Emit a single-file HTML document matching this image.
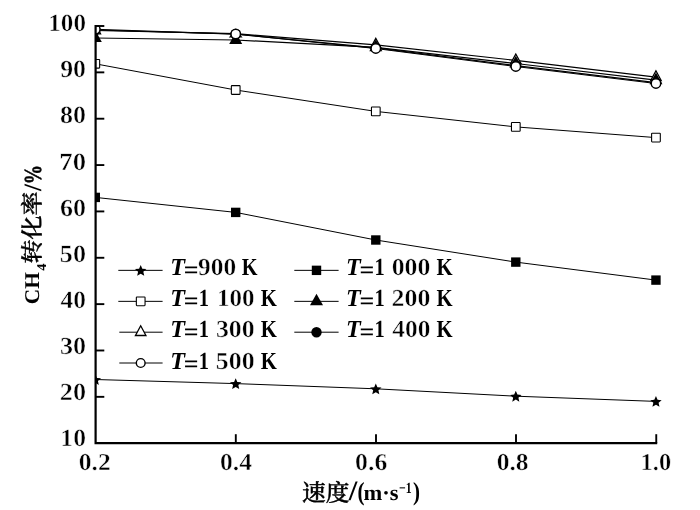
<!DOCTYPE html>
<html><head><meta charset="utf-8"><title>chart</title>
<style>
html,body{margin:0;padding:0;background:#fff;}
svg{display:block;}
text{font-family:"Liberation Serif","Noto Serif CJK SC",serif;font-weight:bold;fill:#000;text-rendering:geometricPrecision;}
.d{stroke:#fff;stroke-width:0.45px;}
.pc{stroke:#000;stroke-width:0.5px;}
.cjk{font-family:"Noto Serif CJK SC","Liberation Serif",serif;font-weight:500;stroke:#000;stroke-width:0.45px;}
</style></head><body>
<svg width="700" height="510" viewBox="0 0 700 510">
<rect width="700" height="510" fill="#fff"/>
<defs><clipPath id="plot"><rect x="95.5" y="25.1" width="600" height="418.2"/></clipPath></defs>

<g clip-path="url(#plot)">
<polyline points="95.30,379.50 235.70,383.60 375.80,388.80 515.80,396.20 655.95,401.40" fill="none" stroke="#000" stroke-width="1.0"/>
<polyline points="95.30,197.40 235.70,212.40 375.80,240.00 515.80,262.10 655.95,280.10" fill="none" stroke="#000" stroke-width="1.0"/>
<polyline points="95.30,63.80 235.70,90.00 375.80,111.40 515.80,126.90 655.95,137.60" fill="none" stroke="#000" stroke-width="1.0"/>
<polyline points="95.30,38.00 235.70,40.00 375.80,47.30 515.80,63.50 655.95,80.20" fill="none" stroke="#000" stroke-width="1.2"/>
<polyline points="95.30,30.50 235.70,33.70 375.80,44.80 515.80,60.40 655.95,77.20" fill="none" stroke="#000" stroke-width="1.2"/>
<polyline points="95.30,30.00 235.70,34.00 375.80,47.80 515.80,65.70 655.95,82.70" fill="none" stroke="#000" stroke-width="1.2"/>
<polyline points="95.30,29.30 235.70,34.10 375.80,48.50 515.80,66.50 655.95,83.50" fill="none" stroke="#000" stroke-width="1.2"/>
<polygon points="95.30,374.10 96.92,377.88 101.01,378.25 97.92,380.95 98.83,384.95 95.30,382.85 91.77,384.95 92.68,380.95 89.59,378.25 93.68,377.88" fill="#000"/>
<polygon points="235.70,378.20 237.32,381.98 241.41,382.35 238.32,385.05 239.23,389.05 235.70,386.95 232.17,389.05 233.08,385.05 229.99,382.35 234.08,381.98" fill="#000"/>
<polygon points="375.80,383.40 377.42,387.18 381.51,387.55 378.42,390.25 379.33,394.25 375.80,392.15 372.27,394.25 373.18,390.25 370.09,387.55 374.18,387.18" fill="#000"/>
<polygon points="515.80,390.80 517.42,394.58 521.51,394.95 518.42,397.65 519.33,401.65 515.80,399.55 512.27,401.65 513.18,397.65 510.09,394.95 514.18,394.58" fill="#000"/>
<polygon points="655.95,396.00 657.57,399.78 661.66,400.15 658.57,402.85 659.48,406.85 655.95,404.75 652.42,406.85 653.33,402.85 650.24,400.15 654.33,399.78" fill="#000"/>
<rect x="90.60" y="192.70" width="9.4" height="9.4" fill="#000"/>
<rect x="231.00" y="207.70" width="9.4" height="9.4" fill="#000"/>
<rect x="371.10" y="235.30" width="9.4" height="9.4" fill="#000"/>
<rect x="511.10" y="257.40" width="9.4" height="9.4" fill="#000"/>
<rect x="651.25" y="275.40" width="9.4" height="9.4" fill="#000"/>
<rect x="90.95" y="59.45" width="8.700000000000001" height="8.700000000000001" rx="0.6" fill="#fff" stroke="#000" stroke-width="1.1"/>
<rect x="231.35" y="85.65" width="8.700000000000001" height="8.700000000000001" rx="0.6" fill="#fff" stroke="#000" stroke-width="1.1"/>
<rect x="371.45" y="107.05" width="8.700000000000001" height="8.700000000000001" rx="0.6" fill="#fff" stroke="#000" stroke-width="1.1"/>
<rect x="511.45" y="122.55" width="8.700000000000001" height="8.700000000000001" rx="0.6" fill="#fff" stroke="#000" stroke-width="1.1"/>
<rect x="651.60" y="133.25" width="8.700000000000001" height="8.700000000000001" rx="0.6" fill="#fff" stroke="#000" stroke-width="1.1"/>
<polygon points="95.30,24.10 90.05,33.80 100.55,33.80" fill="#fff" stroke="#000" stroke-width="1.3"/>
<polygon points="235.70,30.70 230.10,37.00 241.30,37.00" fill="#fff" stroke="#000" stroke-width="1.2"/>
<polygon points="375.80,38.40 370.55,48.10 381.05,48.10" fill="#fff" stroke="#000" stroke-width="1.3"/>
<polygon points="515.80,54.00 510.55,63.70 521.05,63.70" fill="#fff" stroke="#000" stroke-width="1.3"/>
<polygon points="655.95,70.80 650.70,80.50 661.20,80.50" fill="#fff" stroke="#000" stroke-width="1.3"/>
<polygon points="95.30,30.30 88.80,42.00 101.80,42.00" fill="#000"/>
<polygon points="235.70,32.30 229.20,44.00 242.20,44.00" fill="#000"/>
<polygon points="375.80,39.60 369.30,51.30 382.30,51.30" fill="#000"/>
<polygon points="515.80,55.80 509.30,67.50 522.30,67.50" fill="#000"/>
<polygon points="655.95,72.50 649.45,84.20 662.45,84.20" fill="#000"/>
<circle cx="95.30" cy="30.00" r="5.4" fill="#000"/>
<circle cx="235.70" cy="34.00" r="5.4" fill="#000"/>
<circle cx="375.80" cy="47.80" r="5.4" fill="#000"/>
<circle cx="515.80" cy="65.70" r="5.4" fill="#000"/>
<circle cx="655.95" cy="82.70" r="5.4" fill="#000"/>
<circle cx="95.30" cy="29.30" r="4.7" fill="#fff" stroke="#000" stroke-width="1.4"/>
<circle cx="235.70" cy="34.10" r="4.7" fill="#fff" stroke="#000" stroke-width="1.4"/>
<circle cx="375.80" cy="48.50" r="4.7" fill="#fff" stroke="#000" stroke-width="1.4"/>
<circle cx="515.80" cy="66.50" r="4.7" fill="#fff" stroke="#000" stroke-width="1.4"/>
<circle cx="655.95" cy="83.50" r="4.7" fill="#fff" stroke="#000" stroke-width="1.4"/>
</g>
<g stroke="#000" stroke-width="2.2" fill="none">
<path d="M95.6,25.05 V443.2 H657.2"/>
</g><g stroke="#000" stroke-width="1.9" fill="none">
<path d="M95.6,396.84 h8.7"/>
<path d="M95.6,350.49 h8.7"/>
<path d="M95.6,304.13 h8.7"/>
<path d="M95.6,257.78 h8.7"/>
<path d="M95.6,211.42 h8.7"/>
<path d="M95.6,165.07 h8.7"/>
<path d="M95.6,118.71 h8.7"/>
<path d="M95.6,72.36 h8.7"/>
<path d="M95.6,26.00 h8.7"/>
<path d="M235.80,443.2 v-9"/>
<path d="M376.00,443.2 v-9"/>
<path d="M516.00,443.2 v-9"/>
<path d="M656.25,443.2 v-9"/>
</g>
<text x="60.35" y="446.30" font-size="24.7" textLength="25.63" lengthAdjust="spacingAndGlyphs" class="d">10</text>
<text x="59.80" y="400.17" font-size="24.7" textLength="26.20" lengthAdjust="spacingAndGlyphs" class="d">20</text>
<text x="59.92" y="354.04" font-size="24.7" textLength="26.07" lengthAdjust="spacingAndGlyphs" class="d">30</text>
<text x="60.55" y="307.91" font-size="24.7" textLength="25.42" lengthAdjust="spacingAndGlyphs" class="d">40</text>
<text x="59.85" y="261.78" font-size="24.7" textLength="26.14" lengthAdjust="spacingAndGlyphs" class="d">50</text>
<text x="60.01" y="215.65" font-size="24.7" textLength="25.98" lengthAdjust="spacingAndGlyphs" class="d">60</text>
<text x="59.38" y="169.52" font-size="24.7" textLength="26.64" lengthAdjust="spacingAndGlyphs" class="d">70</text>
<text x="60.04" y="123.39" font-size="24.7" textLength="25.95" lengthAdjust="spacingAndGlyphs" class="d">80</text>
<text x="60.19" y="77.26" font-size="24.7" textLength="25.79" lengthAdjust="spacingAndGlyphs" class="d">90</text>
<text x="48.29" y="31.13" font-size="24.7" textLength="37.67" lengthAdjust="spacingAndGlyphs" class="d">100</text>
<text x="78.73" y="470.00" font-size="24.3" textLength="31.97" lengthAdjust="spacingAndGlyphs" class="d">0.2</text>
<text x="220.02" y="470.00" font-size="24.3" textLength="32.05" lengthAdjust="spacingAndGlyphs" class="d">0.4</text>
<text x="355.12" y="470.00" font-size="24.3" textLength="32.24" lengthAdjust="spacingAndGlyphs" class="d">0.6</text>
<text x="496.73" y="470.00" font-size="24.3" textLength="31.92" lengthAdjust="spacingAndGlyphs" class="d">0.8</text>
<text x="640.54" y="470.00" font-size="24.3" textLength="30.59" lengthAdjust="spacingAndGlyphs" class="d">1.0</text>
<text transform="translate(38.6,304.2) rotate(-90)" font-size="21" textLength="32" lengthAdjust="spacingAndGlyphs">CH</text>
<text transform="translate(45.6,270.8) rotate(-90)" font-size="13.5" textLength="7.2" lengthAdjust="spacingAndGlyphs">4</text>
<text transform="translate(39.9,263.6) rotate(-90)" font-size="22.5" textLength="72" lengthAdjust="spacingAndGlyphs" class="cjk">转化率</text>
<text transform="translate(41,191) rotate(-90)" font-size="25" textLength="7" lengthAdjust="spacingAndGlyphs">/</text>
<text transform="translate(41,184.3) rotate(-90)" font-size="24.5" textLength="19.3" lengthAdjust="spacingAndGlyphs" class="pc">%</text>
<text x="302.0" y="501.4" font-size="23.4" textLength="47.3" lengthAdjust="spacingAndGlyphs" class="cjk">速度</text>
<text x="348.7" y="499.8" font-size="28" textLength="8.6" lengthAdjust="spacingAndGlyphs">/</text>
<text x="357.6" y="499.8" font-size="26" textLength="7" lengthAdjust="spacingAndGlyphs">(</text>
<text x="363.6" y="499.6" font-size="22" textLength="35" lengthAdjust="spacingAndGlyphs">m·s</text>
<text x="399" y="493.4" font-size="15.5" textLength="12.6" lengthAdjust="spacingAndGlyphs">−1</text>
<text x="413" y="499.8" font-size="26" textLength="7" lengthAdjust="spacingAndGlyphs">)</text>
<path d="M118.3,270.35 H162.6" stroke="#000" stroke-width="1.0"/>
<polygon points="140.70,264.95 142.32,268.73 146.41,269.10 143.32,271.80 144.23,275.80 140.70,273.70 137.17,275.80 138.08,271.80 134.99,269.10 139.08,268.73" fill="#000"/>
<text x="170.24" y="275.40" font-size="24.5" textLength="14.77" lengthAdjust="spacingAndGlyphs" font-style="italic">T</text>
<text x="183.80" y="278.30" font-size="24.5" textLength="14.83" lengthAdjust="spacingAndGlyphs">=</text>
<text x="198.10" y="275.40" font-size="24.5" textLength="38.16" lengthAdjust="spacingAndGlyphs" class="d">900</text>
<text x="241.75" y="275.40" font-size="24.5" textLength="15.81" lengthAdjust="spacingAndGlyphs">K</text>
<path d="M294.3,270.35 H338.6" stroke="#000" stroke-width="1.0"/>
<rect x="311.80" y="265.65" width="9.4" height="9.4" fill="#000"/>
<text x="346.04" y="275.40" font-size="24.5" textLength="14.77" lengthAdjust="spacingAndGlyphs" font-style="italic">T</text>
<text x="359.60" y="278.30" font-size="24.5" textLength="14.83" lengthAdjust="spacingAndGlyphs">=</text>
<text x="374.57" y="275.40" font-size="24.5" textLength="10.19" lengthAdjust="spacingAndGlyphs">1</text>
<text x="391.72" y="275.40" font-size="24.5" textLength="38.66" lengthAdjust="spacingAndGlyphs" class="d">000</text>
<text x="436.55" y="275.40" font-size="24.5" textLength="16.12" lengthAdjust="spacingAndGlyphs">K</text>
<path d="M118.3,301.35 H162.6" stroke="#000" stroke-width="1.0"/>
<rect x="136.35" y="297.00" width="8.700000000000001" height="8.700000000000001" rx="0.6" fill="#fff" stroke="#000" stroke-width="1.1"/>
<text x="170.24" y="306.40" font-size="24.5" textLength="14.77" lengthAdjust="spacingAndGlyphs" font-style="italic">T</text>
<text x="183.80" y="309.30" font-size="24.5" textLength="14.83" lengthAdjust="spacingAndGlyphs">=</text>
<text x="198.77" y="306.40" font-size="24.5" textLength="10.19" lengthAdjust="spacingAndGlyphs">1</text>
<text x="217.10" y="306.40" font-size="24.5" textLength="37.45" lengthAdjust="spacingAndGlyphs" class="d">100</text>
<text x="260.75" y="306.40" font-size="24.5" textLength="16.12" lengthAdjust="spacingAndGlyphs">K</text>
<path d="M294.3,301.35 H338.6" stroke="#000" stroke-width="1.0"/>
<polygon points="316.50,293.65 310.00,305.35 323.00,305.35" fill="#000"/>
<text x="346.04" y="306.40" font-size="24.5" textLength="14.77" lengthAdjust="spacingAndGlyphs" font-style="italic">T</text>
<text x="359.60" y="309.30" font-size="24.5" textLength="14.83" lengthAdjust="spacingAndGlyphs">=</text>
<text x="374.57" y="306.40" font-size="24.5" textLength="10.19" lengthAdjust="spacingAndGlyphs">1</text>
<text x="391.61" y="306.40" font-size="24.5" textLength="38.77" lengthAdjust="spacingAndGlyphs" class="d">200</text>
<text x="436.55" y="306.40" font-size="24.5" textLength="16.12" lengthAdjust="spacingAndGlyphs">K</text>
<path d="M119.3,332.2 H162.6" stroke="#000" stroke-width="1.0"/>
<polygon points="140.70,325.80 135.45,335.50 145.95,335.50" fill="#fff" stroke="#000" stroke-width="1.3"/>
<text x="170.24" y="337.40" font-size="24.5" textLength="14.77" lengthAdjust="spacingAndGlyphs" font-style="italic">T</text>
<text x="183.80" y="340.30" font-size="24.5" textLength="14.83" lengthAdjust="spacingAndGlyphs">=</text>
<text x="198.77" y="337.40" font-size="24.5" textLength="10.19" lengthAdjust="spacingAndGlyphs">1</text>
<text x="215.93" y="337.40" font-size="24.5" textLength="38.65" lengthAdjust="spacingAndGlyphs" class="d">300</text>
<text x="260.75" y="337.40" font-size="24.5" textLength="16.12" lengthAdjust="spacingAndGlyphs">K</text>
<path d="M294.3,332.2 H338.6" stroke="#000" stroke-width="1.0"/>
<circle cx="316.50" cy="332.20" r="5.2" fill="#000"/>
<text x="346.04" y="337.40" font-size="24.5" textLength="14.77" lengthAdjust="spacingAndGlyphs" font-style="italic">T</text>
<text x="359.60" y="340.30" font-size="24.5" textLength="14.83" lengthAdjust="spacingAndGlyphs">=</text>
<text x="374.57" y="337.40" font-size="24.5" textLength="10.19" lengthAdjust="spacingAndGlyphs">1</text>
<text x="392.35" y="337.40" font-size="24.5" textLength="38.01" lengthAdjust="spacingAndGlyphs" class="d">400</text>
<text x="436.55" y="337.40" font-size="24.5" textLength="16.12" lengthAdjust="spacingAndGlyphs">K</text>
<path d="M119.3,363.0 H162.6" stroke="#000" stroke-width="1.0"/>
<circle cx="140.70" cy="363.00" r="4.3999999999999995" fill="#fff" stroke="#000" stroke-width="1.4"/>
<text x="170.24" y="369.00" font-size="24.5" textLength="14.77" lengthAdjust="spacingAndGlyphs" font-style="italic">T</text>
<text x="183.80" y="371.90" font-size="24.5" textLength="14.83" lengthAdjust="spacingAndGlyphs">=</text>
<text x="198.77" y="369.00" font-size="24.5" textLength="10.19" lengthAdjust="spacingAndGlyphs">1</text>
<text x="215.87" y="369.00" font-size="24.5" textLength="38.72" lengthAdjust="spacingAndGlyphs" class="d">500</text>
<text x="260.75" y="369.00" font-size="24.5" textLength="16.12" lengthAdjust="spacingAndGlyphs">K</text>
</svg></body></html>
